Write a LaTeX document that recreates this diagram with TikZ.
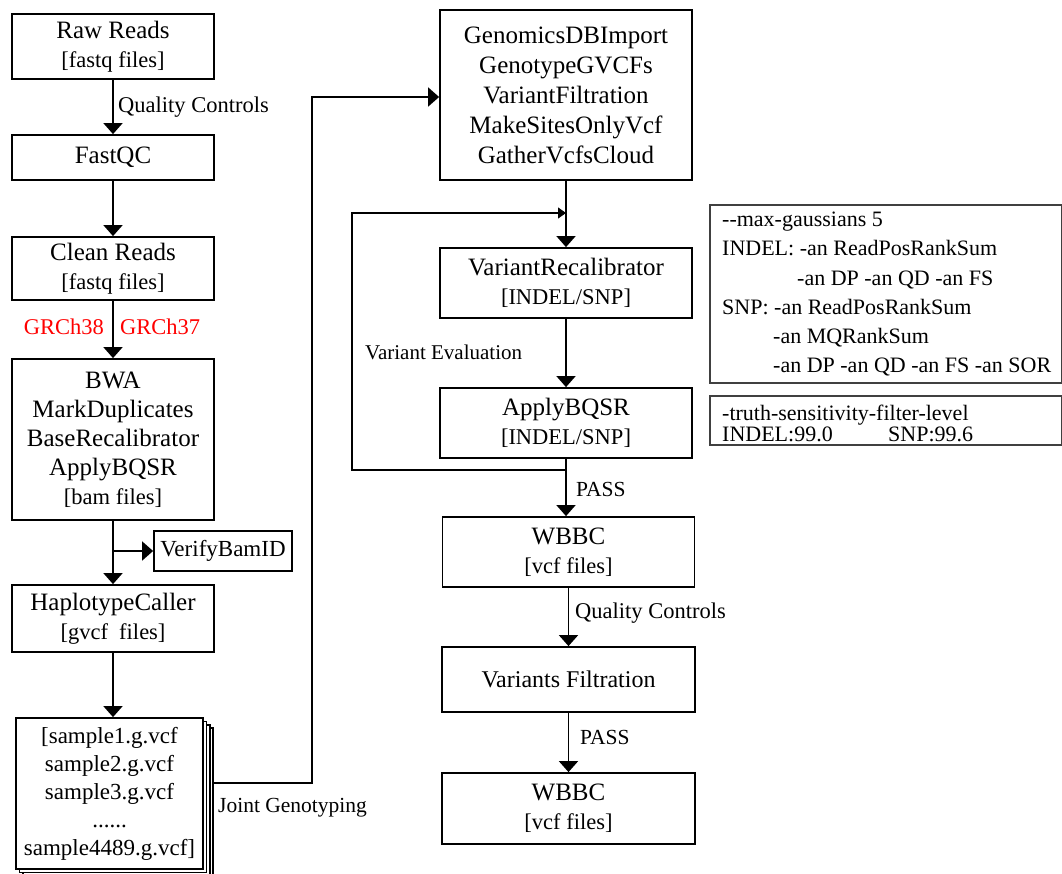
\documentclass[tikz,border=0pt]{standalone}
\usepackage{fontspec}
\setmainfont{Liberation Serif}
\usetikzlibrary{arrows.meta}
\newcommand{\subf}{\fontsize{22.5}{28}\selectfont}
\begin{document}
\begin{tikzpicture}[x=1pt,y=-1pt,
  box/.style={draw, line width=1.8pt, inner sep=0pt, align=center, font=\fontsize{25}{29}\selectfont},
  layer/.style={draw, line width=1.1pt, fill=white, inner sep=0pt},
  pbox/.style={draw=black!75, line width=1.2pt, inner sep=0pt},
  arr/.style={line width=1.8pt, -{Triangle[width=19pt,length=11pt]}},
  thin arr/.style={line width=1.1pt, -{Triangle[width=11pt,length=8pt]}},
  lbl/.style={inner sep=0pt, font=\fontsize{22.5}{27}\selectfont},
  ptxt/.style={inner sep=0pt, anchor=base west, font=\fontsize{22}{27}\selectfont},
]
\useasboundingbox (0,0) rectangle (1062,873);

% left column
\node[box, minimum width=202pt, minimum height=65pt] (raw) at (113,46.5) {Raw Reads\\{\subf [fastq files]}};
\node[box, minimum width=202pt, minimum height=45pt] (fastqc) at (113,157.5) {FastQC};
\node[box, minimum width=202pt, minimum height=63pt] (clean) at (113,268.5) {Clean Reads\\{\subf [fastq files]}};
\node[box, minimum width=202pt, minimum height=161pt] (bwa) at (113,439.5) {BWA\\MarkDuplicates\\BaseRecalibrator\\ApplyBQSR\\{\subf [bam files]}};
\node[box, minimum width=138pt, minimum height=40pt, font=\fontsize{23}{27}\selectfont] (verify) at (223,551) {VerifyBamID};
\node[box, minimum width=202pt, minimum height=67pt] (hap) at (113,618.5) {HaplotypeCaller\\{\subf [gvcf\ \ files]}};

% stacked sample files
\node[layer, minimum width=187pt, minimum height=151pt] (stk3) at (119.5,803.5) {};
\node[layer, minimum width=187pt, minimum height=151pt] (stk2) at (116.5,800.5) {};
\node[layer, minimum width=187pt, minimum height=151pt] (stk1) at (113,797) {};
\node[box, fill=white, minimum width=187pt, minimum height=151pt, font=\fontsize{23}{28}\selectfont] (stk) at (109.5,793.5) {[sample1.g.vcf\\sample2.g.vcf\\sample3.g.vcf\\......\\sample4489.g.vcf]};

% middle column
\node[box, minimum width=252pt, minimum height=170pt, font=\fontsize{25}{30}\selectfont] (gdb) at (566,95) {GenomicsDBImport\\GenotypeGVCFs\\VariantFiltration\\MakeSitesOnlyVcf\\GatherVcfsCloud};
\node[box, minimum width=252pt, minimum height=70pt] (vr) at (566,283) {VariantRecalibrator\\{\subf [INDEL/SNP]}};
\node[box, minimum width=252pt, minimum height=70pt] (apply) at (566,423) {ApplyBQSR\\{\subf [INDEL/SNP]}};
\node[box, minimum width=252pt, minimum height=70pt] (wbbc1) at (568.5,552) {WBBC\\{\subf [vcf files]}};
\node[box, minimum width=253pt, minimum height=65pt, font=\fontsize{24}{29}\selectfont] (vf) at (568.5,679.5) {Variants Filtration};
\node[box, minimum width=253pt, minimum height=71pt] (wbbc2) at (568.5,808.5) {WBBC\\{\subf [vcf files]}};

% parameter boxes
\node[pbox, minimum width=352pt, minimum height=178pt] (pb1) at (886,294) {};
\node[pbox, minimum width=352pt, minimum height=49pt] (pb2) at (886,420.5) {};
\node[ptxt] (p1) at (722,226) {-{}-max-gaussians 5};
\node[ptxt] (p2) at (722,255) {INDEL: -an ReadPosRankSum};
\node[ptxt] (p3) at (797,285) {-an DP -an QD -an FS};
\node[ptxt] (p4) at (722,314) {SNP: -an ReadPosRankSum};
\node[ptxt] (p5) at (773,343) {-an MQRankSum};
\node[ptxt] (p6) at (773,372) {-an DP -an QD -an FS -an SOR};
\node[ptxt] (q1) at (722,420) {-truth-sensitivity-filter-level};
\node[ptxt] (q2) at (722,441) {INDEL:99.0};
\node[ptxt] (q3) at (888,441) {SNP:99.6};

% labels
\node[lbl, anchor=west] (qc1) at (118,107) {Quality Controls};
\node[lbl, anchor=east, text=red] (g38) at (104,327) {GRCh38};
\node[lbl, anchor=west, text=red] (g37) at (120,327) {GRCh37};
\node[lbl, anchor=west, font=\fontsize{21.5}{26}\selectfont] (jg) at (218,808) {Joint Genotyping};
\node[lbl, anchor=west, font=\fontsize{21}{26}\selectfont] (ve) at (365,352) {Variant Evaluation};
\node[lbl, anchor=west, font=\fontsize{21.5}{26}\selectfont] (pass1) at (576,489) {PASS};
\node[lbl, anchor=west] (qc2) at (575,613) {Quality Controls};
\node[lbl, anchor=west, font=\fontsize{21.5}{26}\selectfont] (pass2) at (580,737) {PASS};

% left connectors
\draw[arr] (raw.south) -- (raw.south |- fastqc.north);
\draw[arr] (fastqc.south) -- (fastqc.south |- clean.north);
\draw[arr] (clean.south) -- (clean.south |- bwa.north);
\draw[arr] (bwa.south) -- (bwa.south |- hap.north);
\draw[arr] (bwa.south |- verify.west) -- (verify.west);
\draw[arr] (hap.south) -- (hap.south |- stk.north);

% joint genotyping connector
\coordinate (jgturn) at (312,783);
\coordinate (jgtop) at (312,97);
\draw[arr] (stk3.east |- jgturn) -- (jgturn) -- (jgtop) -- (gdb.west |- jgtop);

% middle connectors
\draw[arr] (gdb.south) -- (gdb.south |- vr.north);
\draw[arr] (vr.south) -- (vr.south |- apply.north);
\draw[arr] (apply.south) -- (apply.south |- wbbc1.north);
\draw[arr] (wbbc1.south) -- (wbbc1.south |- vf.north);
\draw[arr] (vf.south) -- (vf.south |- wbbc2.north);

% feedback loop
\coordinate (fbbl) at (352,470);
\coordinate (fbtl) at (352,213);
\draw[thin arr] (apply.south |- fbbl) -- (fbbl) -- (fbtl) -- (gdb.south |- fbtl);
\end{tikzpicture}
\end{document}
